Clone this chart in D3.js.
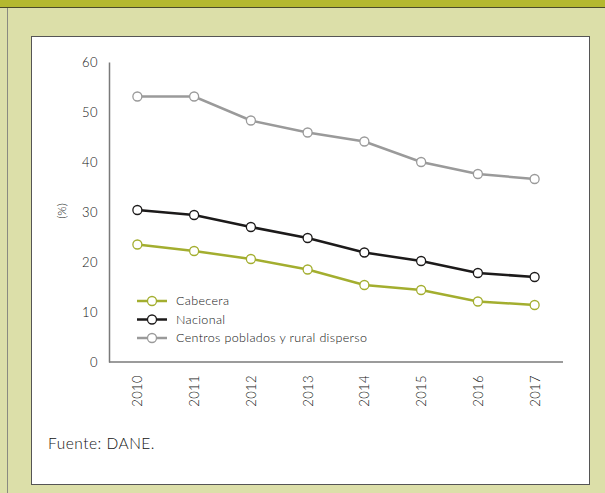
<!DOCTYPE html>
<html>
<head>
<meta charset="utf-8">
<script src="https://d3js.org/d3.v7.min.js"></script>
<style>
  body { margin: 0; padding: 0; background: #dcdfa9; }
  svg { display: block; font-family: Lato, "DejaVu Sans", sans-serif; font-weight: 300; }
</style>
</head>
<body>
<svg id="chart" width="605" height="493"></svg>
<script>
// años y series (%)
var years = ["2010", "2011", "2012", "2013", "2014", "2015", "2016", "2017"];
var cabecera = [23.5, 22.2, 20.6, 18.5, 15.4, 14.4, 12.1, 11.4];
var nacional = [30.4, 29.4, 27.0, 24.8, 21.9, 20.2, 17.8, 17.0];
var rural = [53.1, 53.1, 48.3, 45.9, 44.1, 40.0, 37.6, 36.6];
var seriesNames = ["Cabecera", "Nacional", "Centros poblados y rural disperso"];
var yTicks = [0, 10, 20, 30, 40, 50, 60];

var colors = ["#a3ae2f", "#1c1a1a", "#9a9a9a"];
var allSeries = [cabecera, nacional, rural];
var textColor = "#111";

var svg = d3.select("#chart");

// marco
svg.append("rect").attr("x", 0).attr("y", 0).attr("width", 605).attr("height", 493).attr("fill", "#dcdfa9");
svg.append("rect").attr("x", 0).attr("y", 0).attr("width", 605).attr("height", 7).attr("fill", "#b4b82f");
svg.append("line").attr("x1", 0).attr("x2", 605).attr("y1", 7.5).attr("y2", 7.5).attr("stroke", "#4a4a2a").attr("stroke-width", 1);
svg.append("line").attr("x1", 7.5).attr("x2", 7.5).attr("y1", 8).attr("y2", 493).attr("stroke", "#8a8a80").attr("stroke-width", 1);
svg.append("rect").attr("x", 31.5).attr("y", 36.5).attr("width", 558).attr("height", 448)
  .attr("fill", "#fff").attr("stroke", "#555").attr("stroke-width", 1);

var x = d3.scalePoint().domain(years).range([109, 563]).padding(0.5);
var y = d3.scaleLinear().domain([0, 60]).range([362, 62]);

// eje y
var yAxis = svg.append("g").attr("transform", "translate(109,0)")
  .call(d3.axisLeft(y).tickValues(yTicks).tickSize(0).tickPadding(11));
yAxis.select(".domain").attr("stroke", "#7a7a7a").attr("stroke-width", 1.5);
yAxis.selectAll("text").attr("font-size", 13).attr("fill", textColor)
  .attr("font-family", "Lato, sans-serif").attr("font-weight", 300).attr("letter-spacing", 0.4);

// eje x
var xAxis = svg.append("g").attr("transform", "translate(0,362)")
  .call(d3.axisBottom(x).tickSize(0).tickSizeOuter(0));
xAxis.select(".domain").attr("stroke", "#7a7a7a").attr("stroke-width", 1.5)
  .attr("d", "M109,0H563");
xAxis.selectAll("text")
  .attr("font-size", 13).attr("fill", textColor)
  .attr("font-family", "Lato, sans-serif").attr("font-weight", 300).attr("letter-spacing", 0.4)
  .attr("transform", "rotate(-90)")
  .attr("text-anchor", "end")
  .attr("x", -13).attr("y", 0).attr("dy", "0.35em");

svg.append("text").attr("transform", "translate(66,211) rotate(-90)")
  .attr("text-anchor", "middle").attr("font-size", 12).attr("fill", textColor).text("(%)");

var line = d3.line().x(function(d, i) { return x(years[i]); }).y(function(d) { return y(d); });

allSeries.forEach(function(s, k) {
  svg.append("path").datum(s).attr("d", line).attr("fill", "none")
    .attr("stroke", colors[k]).attr("stroke-width", 2.5);
  svg.selectAll(".pt" + k).data(s).enter().append("circle")
    .attr("cx", function(d, i) { return x(years[i]); })
    .attr("cy", function(d) { return y(d); })
    .attr("r", 4.5).attr("fill", "#fff")
    .attr("stroke", colors[k]).attr("stroke-width", 1.3);
});

// leyenda
var leg = svg.append("g");
seriesNames.forEach(function(n, k) {
  var ly = 301 + k * 18.5;
  leg.append("line").attr("x1", 137).attr("x2", 167).attr("y1", ly).attr("y2", ly)
    .attr("stroke", colors[k]).attr("stroke-width", 2.5);
  leg.append("circle").attr("cx", 152).attr("cy", ly).attr("r", 4.5)
    .attr("fill", "#fff").attr("stroke", colors[k]).attr("stroke-width", 1.3);
  leg.append("text").attr("x", 176).attr("y", ly).attr("dy", "0.35em")
    .attr("font-size", 12.5).attr("letter-spacing", 0.35).attr("fill", textColor).text(n);
});

svg.append("text").attr("x", 48).attr("y", 449).attr("font-size", 15.5).attr("letter-spacing", 0.5)
  .attr("fill", textColor).text("Fuente: DANE.");
</script>
</body>
</html>
